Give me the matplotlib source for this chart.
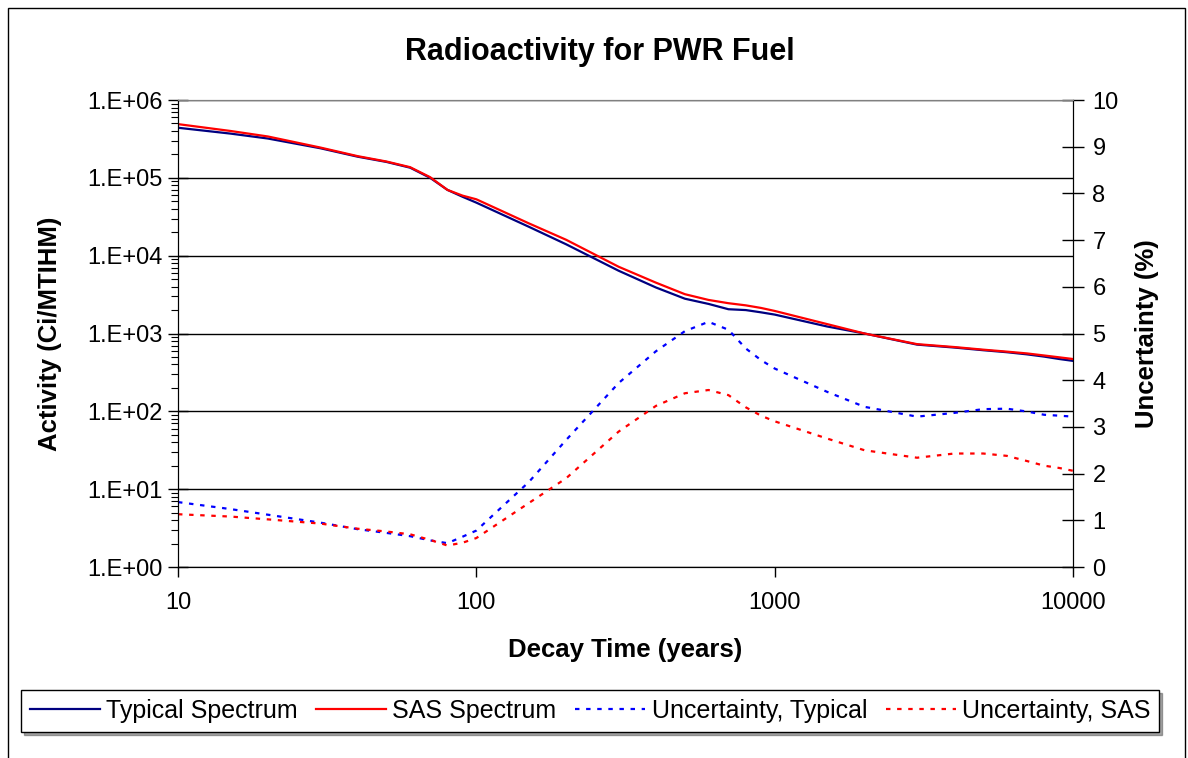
import math
import matplotlib
matplotlib.use("Agg")
import matplotlib.pyplot as plt
from matplotlib.patches import Rectangle
from matplotlib.ticker import FixedLocator, FuncFormatter, LogLocator, NullLocator, NullFormatter

plt.rcParams['font.family'] = ['Liberation Sans', 'DejaVu Sans']

decay_time = [10, 15, 20, 30, 40, 50, 60, 70, 80, 90, 100, 150, 200, 300, 400, 500,
              600, 700, 800, 900, 1000, 1500, 2000, 3000, 4000, 5000, 6000, 7000,
              8000, 9000, 10000]

activity_typical = [4.4e5, 3.7e5, 3.2e5, 2.4e5, 1.87e5, 1.6e5, 1.35e5, 1.0e5, 7.0e4, 5.7e4,
                    4.8e4, 2.35e4, 1.4e4, 6.4e3, 3.9e3, 2.8e3, 2.4e3, 2.05e3, 2.0e3, 1.87e3,
                    1.75e3, 1.23e3, 1.0e3, 720, 660, 610, 575, 540, 505, 470, 445]

activity_sas = [4.9e5, 4.0e5, 3.4e5, 2.45e5, 1.9e5, 1.62e5, 1.37e5, 1.02e5, 7.0e4, 5.9e4,
                5.3e4, 2.6e4, 1.6e4, 7.2e3, 4.5e3, 3.2e3, 2.7e3, 2.45e3, 2.3e3, 2.13e3,
                1.95e3, 1.32e3, 1.0e3, 730, 670, 620, 585, 555, 522, 494, 470]

uncert_typical = [1.39, 1.24, 1.12, 0.95, 0.81, 0.73, 0.66, 0.57, 0.51, 0.65,
                  0.78, 1.82, 2.72, 3.94, 4.62, 5.05, 5.25, 5.08, 4.68, 4.43,
                  4.25, 3.75, 3.43, 3.22, 3.30, 3.38, 3.39, 3.33, 3.26, 3.24, 3.22]

uncert_sas = [1.13, 1.08, 1.02, 0.93, 0.82, 0.76, 0.70, 0.58, 0.46, 0.52,
              0.62, 1.37, 1.90, 2.90, 3.45, 3.72, 3.79, 3.68, 3.42, 3.24,
              3.12, 2.75, 2.50, 2.34, 2.43, 2.43, 2.38, 2.27, 2.17, 2.12, 2.06]

x_ticks = [10, 100, 1000, 10000]
y_ticks = [1e0, 1e1, 1e2, 1e3, 1e4, 1e5, 1e6]
y2_ticks = list(range(0, 11))

W, H = 1188, 758
fig = plt.figure(figsize=(W / 100, H / 100), dpi=100)

# outer chart border
fig.patches.append(Rectangle((8 / W, -0.01), (1185 - 8) / W, 1.01 - 8 / H,
                             transform=fig.transFigure, fill=False,
                             edgecolor='black', linewidth=1.0))

ax = fig.add_axes([178 / W, 1 - 567 / H, (1073 - 178) / W, (567 - 100) / H])
ax2 = ax.twinx()

FS = 17
LFS = 18.5
c_typ = '#000080'
c_sas = '#FF0000'
c_utyp = '#0000FF'
c_usas = '#FF0000'
dot = (0, (2.0, 3.0))

l1, = ax.plot(decay_time, activity_typical, color=c_typ, lw=1.6, zorder=4)
l2, = ax.plot(decay_time, activity_sas, color=c_sas, lw=1.6, zorder=5)
l3, = ax2.plot(decay_time, uncert_typical, color=c_utyp, lw=1.6, linestyle=dot)
l4, = ax2.plot(decay_time, uncert_sas, color=c_usas, lw=1.6, linestyle=dot)

ax.set_xscale('log')
ax.set_yscale('log')
ax.set_xlim(10, 10000)
ax.set_ylim(1, 1e6)
ax2.set_ylim(0, 10)

ax.xaxis.set_major_locator(FixedLocator(x_ticks))
ax.xaxis.set_minor_locator(NullLocator())
ax.xaxis.set_major_formatter(FuncFormatter(lambda v, p: f"{int(round(v))}"))
ax.yaxis.set_major_locator(FixedLocator(y_ticks))
ax.yaxis.set_minor_locator(LogLocator(base=10, subs=range(2, 10), numticks=20))
ax.yaxis.set_minor_formatter(NullFormatter())
ax.yaxis.set_major_formatter(FuncFormatter(lambda v, p: "1.E+%02d" % round(math.log10(v))))
ax2.yaxis.set_major_locator(FixedLocator(y2_ticks))

ax.grid(True, which='major', axis='y', color='black', lw=1.0)
ax.set_axisbelow(True)

ax.tick_params(axis='y', which='major', direction='inout', length=14, width=1, labelsize=FS, pad=4)
ax.tick_params(axis='y', which='minor', direction='out', length=5, width=0.8)
ax.tick_params(axis='x', which='major', direction='out', length=7, width=1, labelsize=FS, pad=11)
ax2.tick_params(axis='y', direction='inout', length=16, width=1, labelsize=FS, pad=6)

for a in (ax, ax2):
    a.spines['top'].set_color('#808080')
    a.spines['left'].set_color('black')
    a.spines['right'].set_color('black')
    a.spines['bottom'].set_color('black')

ax.set_xlabel('Decay Time (years)', fontsize=LFS, fontweight='bold')
ax.set_ylabel('Activity (Ci/MTIHM)', fontsize=LFS, fontweight='bold')
ax2.set_ylabel('Uncertainty (%)', fontsize=LFS, fontweight='bold', rotation=90)
ax.xaxis.set_label_coords(0.5, (567 - 638) / 467)
ax.yaxis.set_label_coords((62 - 178) / 895, 0.5)
ax2.yaxis.set_label_coords((1135 - 178) / 895, 0.5)

fig.text(600 / W, 1 - 52 / H, 'Radioactivity for PWR Fuel', ha='center', va='center',
         fontsize=22, fontweight='bold')

handles = [l1, l2, l3, l4]
labels = ['Typical Spectrum', 'SAS Spectrum', 'Uncertainty, Typical', 'Uncertainty, SAS']
leg = fig.legend(handles, labels, ncol=4, loc='center',
                 bbox_to_anchor=(590 / W, 1 - 711 / H), fontsize=18,
                 frameon=True, fancybox=False, shadow=True, edgecolor='black',
                 handlelength=2.8, handletextpad=0.25, columnspacing=0.75,
                 borderpad=0.35, borderaxespad=0)
leg.get_frame().set_linewidth(1.0)

fig.savefig('out.png', dpi=100)
